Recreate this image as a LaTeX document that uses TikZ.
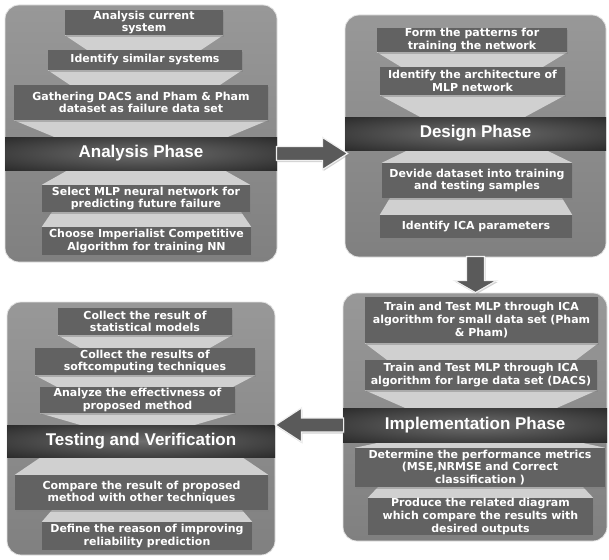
\documentclass[tikz,border=0pt]{standalone}
\usepackage{fontspec}
\setmainfont{DejaVu Sans}
\newfontfamily\bandfont{Liberation Sans}
\usetikzlibrary{calc,shadows}
\definecolor{paneltop}{RGB}{152,152,152}
\definecolor{panelbot}{RGB}{128,128,128}
\definecolor{boxgray}{RGB}{98,98,98}
\definecolor{trapgray}{RGB}{208,208,208}
\definecolor{arrowgray}{RGB}{90,90,90}
\definecolor{bandmid}{RGB}{110,110,110}
\definecolor{bandout}{RGB}{20,20,20}
\pgfdeclareradialshading{bandglow}{\pgfpoint{0bp}{0bp}}{color(0bp)=(bandmid); color(48bp)=(bandout); color(100bp)=(bandout)}
\pgfdeclarelayer{back}
\pgfdeclarelayer{mid}
\pgfsetlayers{back,mid,main}
\newcommand\mybox[6]{%
  \pgfmathsetmacro\mybw{#4-#2}%
  \pgfmathsetmacro\mybh{#5-#3}%
  \pgfmathsetmacro\mybx{(#2+#4)/2}%
  \pgfmathsetmacro\myby{(#3+#5)/2}%
  \node[boxst, minimum width=\mybw pt, minimum height=\mybh pt] (#1) at (\mybx,\myby) {#6};}
\newcommand\myband[6]{%
  \pgfmathsetmacro\mybw{#4-#2}%
  \pgfmathsetmacro\mybh{#5-#3}%
  \pgfmathsetmacro\mybx{(#2+#4)/2}%
  \pgfmathsetmacro\myby{(#3+#5)/2}%
  \node[bandst, minimum width=\mybw pt, minimum height=\mybh pt] (#1) at (\mybx,\myby) {#6};}
\newcommand\mypanel[5]{%
  \pgfmathsetmacro\mybw{#4-#2}%
  \pgfmathsetmacro\mybh{#5-#3}%
  \pgfmathsetmacro\mybx{(#2+#4)/2}%
  \pgfmathsetmacro\myby{(#3+#5)/2}%
  \node[panelst, minimum width=\mybw pt, minimum height=\mybh pt] (#1) at (\mybx,\myby) {};}
\newcommand\trapdown[3]{\fill[trapst] (#1.south west) -- (#1.south east) -- ($(#1.south east |- #2.north)+(-#3,0)$) -- ($(#1.south west |- #2.north)+(#3,0)$) -- cycle;}
\newcommand\trapup[3]{\fill[trapst] ($(#2.north west |- #1.south)+(#3,0)$) -- ($(#2.north east |- #1.south)+(-#3,0)$) -- (#2.north east) -- (#2.north west) -- cycle;}
\begin{document}
\begin{tikzpicture}[x=1pt,y=-1pt,
  panelst/.style={rounded corners=14pt, top color=paneltop, bottom color=panelbot, draw=white!78!gray, line width=0.8pt, inner sep=0pt},
  boxst/.style={fill=boxgray, text=white, align=center, inner sep=0pt, font=\bfseries\fontsize{11}{12.6}\selectfont, drop shadow={shadow xshift=0.6pt, shadow yshift=-1.6pt, opacity=0.45}},
  bandst/.style={shade, shading=bandglow, text=white, inner sep=0pt, font=\bandfont\bfseries\fontsize{17}{20}\selectfont},
  trapst/.style={fill=trapgray},
  blockarrow/.style={fill=arrowgray, draw=white!88!gray, line width=1.2pt, line join=miter, drop shadow={shadow xshift=1pt, shadow yshift=-1.5pt, opacity=0.35}}]
\useasboundingbox (0,0) rectangle (609,559);
\begin{pgfonlayer}{back}
\fill[white] (0,0) rectangle (609,559);
\mypanel{p1}{5}{5}{277}{262}
\mypanel{p2}{345}{15}{606}{257}
\mypanel{p3}{343}{293}{607}{541}
\mypanel{p4}{7}{302}{275}{555}
\end{pgfonlayer}
% Analysis panel
\mybox{a1}{65}{10}{223}{35}{Analysis current\\system}
\mybox{a2}{48}{50}{242}{70}{Identify similar systems}
\mybox{a3}{14}{85}{268}{120}{Gathering DACS and Pham \& Pham\\dataset as failure data set}
\myband{b1}{5}{137}{277}{170}{Analysis Phase}
\mybox{a4}{42}{185}{250}{212}{Select MLP neural network for\\predicting future failure}
\mybox{a5}{42}{227}{251}{255}{Choose Imperialist Competitive\\Algorithm for training NN}
% Design panel
\mybox{d1}{377}{28}{567}{52}{Form the patterns for\\training the network}
\mybox{d2}{380}{67}{565}{95}{Identify the architecture of\\MLP network}
\myband{b2}{345}{117}{606}{150}{Design Phase}
\mybox{d3}{382}{163}{572}{198}{Devide dataset into training\\and testing samples}
\mybox{d4}{380}{215}{572}{238}{Identify ICA parameters}
% Implementation panel
\mybox{i1}{365}{297}{598}{343}{Train and Test MLP through ICA\\algorithm for small data set (Pham\\\& Pham)}
\mybox{i2}{365}{360}{597}{390}{Train and Test MLP through ICA\\algorithm for large data set (DACS)}
\myband{b3}{343}{408}{607}{442}{Implementation Phase}
\mybox{i3}{355}{448}{605}{487}{Determine the performance metrics\\(MSE,NRMSE and Correct\\classification )}
\mybox{i4}{368}{498}{593}{535}{Produce the related diagram\\which compare the results with\\desired outputs}
% Testing panel
\mybox{t1}{58}{308}{232}{335}{Collect the result of\\statistical models}
\mybox{t2}{35}{348}{255}{375}{Collect the results of\\softcomputing techniques}
\mybox{t3}{40}{387}{235}{413}{Analyze the effectivness of\\proposed method}
\myband{b4}{7}{425}{275}{457}{Testing and Verification}
\mybox{t4}{15}{475}{268}{510}{Compare the result of proposed\\method with other techniques}
\mybox{t5}{42}{522}{252}{550}{Define the reason of improving\\reliability prediction}
% funnel shapes
\begin{pgfonlayer}{mid}
\trapdown{a1}{a2}{22}
\trapdown{a2}{a3}{22}
\trapdown{a3}{b1}{40}
\trapup{b1}{a4}{26}
\trapup{a4}{a5}{10}
\trapdown{d1}{d2}{24}
\trapdown{d2}{b2}{40}
\trapup{b2}{d3}{26}
\trapup{d3}{d4}{10}
\trapdown{i1}{i2}{22}
\trapdown{i2}{b3}{40}
\trapup{b3}{i3}{26}
\trapup{i3}{i4}{10}
\trapdown{t1}{t2}{22}
\trapdown{t2}{t3}{22}
\trapdown{t3}{b4}{40}
\trapup{b4}{t4}{26}
\trapup{t4}{t5}{10}
\end{pgfonlayer}
% block arrows between phases
\coordinate (r1t) at (p1.east |- b1);
\coordinate (r1h) at ($(p2.west |- b1)+(3,0)$);
\draw[blockarrow] ($(r1t)+(-1,-7)$) -- ($(r1h)+(-25,-7)$) -- ($(r1h)+(-25,-16)$) -- (r1h) -- ($(r1h)+(-25,16)$) -- ($(r1h)+(-25,7)$) -- ($(r1t)+(-1,7)$) -- cycle;
\coordinate (d2t) at (p2.south);
\coordinate (d2h) at (p2.south |- p3.north);
\draw[blockarrow] ($(d2t)+(-9,-1)$) -- ($(d2h)+(-9,-12)$) -- ($(d2h)+(-21,-12)$) -- (d2h) -- ($(d2h)+(21,-12)$) -- ($(d2h)+(9,-12)$) -- ($(d2t)+(9,-1)$) -- cycle;
\coordinate (l3t) at (p3.west |- b3);
\coordinate (l3h) at (p4.east |- b3);
\draw[blockarrow] ($(l3t)+(1,-7)$) -- ($(l3h)+(26,-7)$) -- ($(l3h)+(26,-17)$) -- (l3h) -- ($(l3h)+(26,17)$) -- ($(l3h)+(26,7)$) -- ($(l3t)+(1,7)$) -- cycle;
\end{tikzpicture}
\end{document}
